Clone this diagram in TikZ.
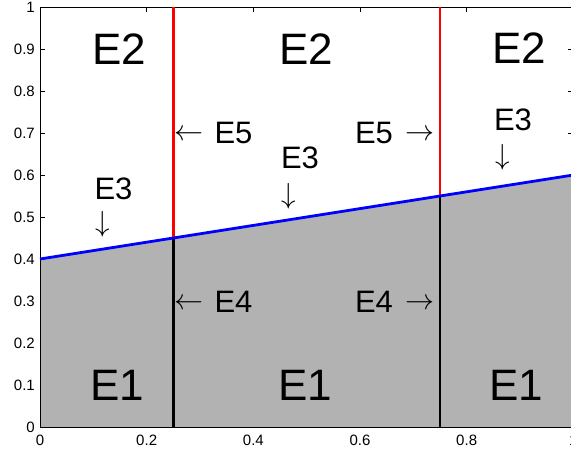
\documentclass[tikz,border=0pt]{standalone}
\usepackage{fix-cm}
\usepackage{fontspec}
\setmainfont{Liberation Sans}
\begin{document}
\begin{tikzpicture}[x=1pt,y=-1pt,
  big/.style={inner sep=0pt,font=\fontsize{44}{44}\selectfont},
  mid/.style={inner sep=0pt,font=\fontsize{31}{31}\selectfont},
  arr/.style={inner sep=0pt,font=\fontsize{29}{29}\selectfont},
  tick/.style={inner sep=0pt,font=\fontsize{15}{15}\selectfont},
  frame/.style={line width=1pt,black},
  bord/.style={line width=2.8pt}]
\useasboundingbox (0,0) rectangle (571,456);
\clip (0,0) rectangle (571,456);
\fill[white] (0,0) rectangle (571,456);
% axis data -> pixel: x = 40 + 533.33 X, y = 427 - 420 Y
\coordinate (BL) at (40,427);
\coordinate (TR) at (573.33,7);
% ticks
\foreach \i in {0,...,10}{
  \pgfmathsetmacro{\yy}{427-42*\i}
  \draw[frame] (40,\yy) -- (45,\yy);
  \draw[frame] (573.33,\yy) -- (568.33,\yy);
}
\foreach \i in {0,...,5}{
  \pgfmathsetmacro{\xx}{40+106.667*\i}
  \draw[frame] (\xx,427) -- (\xx,422);
  \draw[frame] (\xx,7) -- (\xx,12);
}
% tick labels
\foreach \v/\t in {0/0,1/0.1,2/0.2,3/0.3,4/0.4,5/0.5,6/0.6,7/0.7,8/0.8,9/0.9,10/1}{
  \pgfmathsetmacro{\yy}{427-42*\v}
  \node[tick,anchor=east] (yl\v) at (35,\yy) {\t};
}
\foreach \v/\t in {0/0,1/0.2,2/0.4,3/0.6,4/0.8,5/1}{
  \pgfmathsetmacro{\xx}{40+106.667*\v}
  \node[tick,anchor=north] (xl\v) at (\xx,435) {\t};
}
% region fill
\coordinate (L0) at (40,259);
\coordinate (L1) at (573.33,175);
\coordinate (P1) at (173.33,238);
\coordinate (P2) at (440,196);
\coordinate (B1) at (173.33,427);
\coordinate (B2) at (440,427);
\coordinate (T1) at (173.33,7);
\coordinate (T2) at (440,7);
\fill[black!30] (BL) -- (L0) -- (L1) -- (573.33,427) -- cycle;
% frame
\draw[frame] (BL) rectangle (TR);
% boundaries
\draw[bord,black] (B1) -- (P1);
\draw[bord,black] (B2) -- (P2);
\draw[bord,red] (P1) -- (T1);
\draw[bord,red] (P2) -- (T2);
\draw[line width=2.8pt,blue] (L0) -- (L1);
% labels
\node[big] (e2a) at (119,49) {E2};
\node[big] (e2b) at (306,49) {E2};
\node[big] (e2c) at (519,48) {E2};
\node[big] (e1a) at (117,385) {E1};
\node[big] (e1b) at (305,385) {E1};
\node[big] (e1c) at (516,385) {E1};
\node[mid] (e5a) at (233.5,133) {E5};
\node[arr] (a5a) at (188.5,135) {$\leftarrow$};
\node[mid] (e5b) at (374,133) {E5};
\node[arr] (a5b) at (420,135) {$\rightarrow$};
\node[mid] (e4a) at (233.5,302) {E4};
\node[arr] (a4a) at (188.5,304) {$\leftarrow$};
\node[mid] (e4b) at (374,302) {E4};
\node[arr] (a4b) at (420,304) {$\rightarrow$};
\node[mid] (e3a) at (113.5,188.5) {E3};
\node[arr] (a3a) at (103,224) {$\downarrow$};
\node[mid] (e3b) at (300,157.5) {E3};
\node[arr] (a3b) at (289,196) {$\downarrow$};
\node[mid] (e3c) at (513,120) {E3};
\node[arr] (a3c) at (503,157.5) {$\downarrow$};
\end{tikzpicture}
\end{document}
